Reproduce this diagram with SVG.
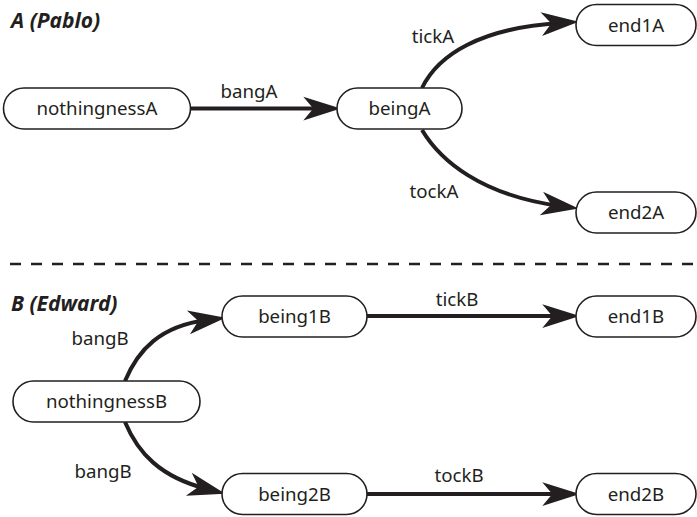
<svg xmlns="http://www.w3.org/2000/svg" width="697" height="517" viewBox="0 0 697 517">
  <style>
    .node rect { fill: #ffffff; stroke: #231f20; stroke-width: 1.6; }
    .node text, .label { font-family: "Noto Sans", "Open Sans", sans-serif; font-size: 18.7px; fill: #231f20; text-anchor: middle; }
    .edge { fill: none; stroke: #231f20; stroke-width: 4; marker-end: url(#arrow); }
    .title { font-family: "Noto Sans", "Open Sans", sans-serif; font-size: 21px; font-weight: bold; font-style: italic; fill: #231f20; }
    .divider { stroke: #231f20; stroke-width: 2.5; stroke-dasharray: 11 10; }
  </style>
  <defs>
    <marker id="arrow" markerUnits="userSpaceOnUse" orient="auto" refX="0" refY="0" markerWidth="40" markerHeight="30" viewBox="-16 -10 32 20" overflow="visible">
      <path d="M15,0 L-15,-9.5 L-7,0 L-15,9.5 Z" fill="#231f20"/>
    </marker>
  </defs>

  <rect width="697" height="517" fill="#ffffff"/>

  <!-- section titles -->
  <text class="title" x="11" y="28">A (Pablo)</text>
  <text class="title" x="11" y="311">B (Edward)</text>

  <!-- separator between the two variants -->
  <line class="divider" x1="10" y1="264" x2="697" y2="264"/>

  <!-- connectors -->
  <g id="connectors">
    <path class="edge" d="M190.5,108.5 L322,108.5"/>
    <path class="edge" d="M422,88 C438,55 480,28 560,23"/>
    <path class="edge" d="M422,130 C440,160 480,195 560,206"/>
    <path class="edge" d="M125,381 C138,350 160,326 207,320"/>
    <path class="edge" d="M125,422 C138,453 160,477 207,489"/>
    <path class="edge" d="M367,316 L561,316"/>
    <path class="edge" d="M367,494 L561,494"/>
    <text class="label" x="249" y="98">bangA</text>
    <text class="label" x="433" y="43">tickA</text>
    <text class="label" x="434" y="198">tockA</text>
    <text class="label" x="100" y="345">bangB</text>
    <text class="label" x="103" y="478">bangB</text>
    <text class="label" x="457" y="306">tickB</text>
    <text class="label" x="459" y="482">tockB</text>
  </g>

  <!-- nodes: variant A -->
  <g id="nothingnessA" class="node">
    <rect x="3.5" y="88" width="187" height="41" rx="20.5"/>
    <text x="97" y="115">nothingnessA</text>
  </g>
  <g id="beingA" class="node">
    <rect x="337" y="88" width="125" height="41" rx="20.5"/>
    <text x="399.5" y="115">beingA</text>
  </g>
  <g id="end1A" class="node">
    <rect x="576" y="4.5" width="120" height="41" rx="20.5"/>
    <text x="636" y="31.5">end1A</text>
  </g>
  <g id="end2A" class="node">
    <rect x="576" y="192" width="120" height="41" rx="20.5"/>
    <text x="636" y="219">end2A</text>
  </g>

  <!-- nodes: variant B -->
  <g id="nothingnessB" class="node">
    <rect x="13" y="381" width="187" height="41" rx="20.5"/>
    <text x="106.5" y="408">nothingnessB</text>
  </g>
  <g id="being1B" class="node">
    <rect x="222" y="296" width="145" height="41" rx="20.5"/>
    <text x="294.5" y="323">being1B</text>
  </g>
  <g id="being2B" class="node">
    <rect x="222" y="473.5" width="145" height="41" rx="20.5"/>
    <text x="294.5" y="500.5">being2B</text>
  </g>
  <g id="end1B" class="node">
    <rect x="576" y="296" width="120" height="41" rx="20.5"/>
    <text x="636" y="323">end1B</text>
  </g>
  <g id="end2B" class="node">
    <rect x="576" y="473.5" width="120" height="41" rx="20.5"/>
    <text x="636" y="500.5">end2B</text>
  </g>
</svg>
